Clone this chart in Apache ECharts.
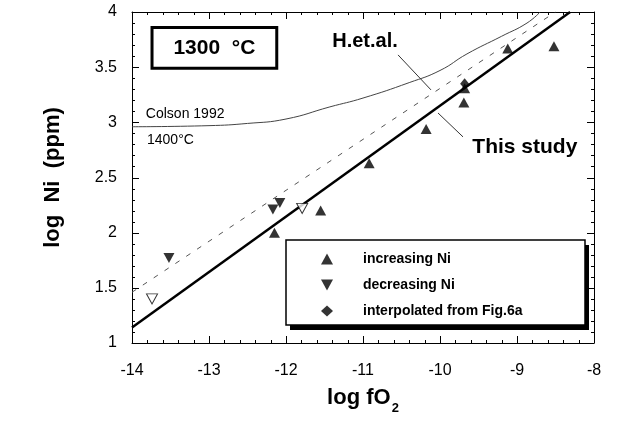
<!DOCTYPE html>
<html>
<head>
<meta charset="utf-8">
<script src="https://cdn.jsdelivr.net/npm/echarts@6/dist/echarts.min.js"></script>
<style>
  html, body { margin: 0; padding: 0; background: #fff; }
  #chart { width: 618px; height: 426px; }
</style>
</head>
<body>
<div id="chart"></div>
<script>
// measured points, [log fO2, log Ni]
const increasingNi = [[-12.15, 2.0], [-11.55, 2.2], [-10.92, 2.63], [-10.18, 2.94], [-9.69, 3.18], [-9.68, 3.31], [-9.12, 3.67], [-8.52, 3.69]];
const decreasingNi = [[-13.52, 1.77], [-12.17, 2.21], [-12.08, 2.27]];
const openDecreasing = [[-13.74, 1.40], [-11.79, 2.22]];
const interpolated = [[-9.68, 3.35]];

// fitted / literature lines
const thisStudy = [[-14, 1.14], [-8.31, 4.0]];
const hEtAl = [[-14, 1.46], [-8.5, 4.0]];
const colson1992 = [[-14, 2.96], [-13, 2.97], [-12.5, 2.99], [-12, 3.03], [-11.43, 3.14], [-11, 3.22], [-10.4, 3.36], [-10, 3.47], [-9.65, 3.62], [-9.2, 3.78], [-8.87, 3.9], [-8.7, 4.0]];

// frame ticks
const xMajorTicks = [-14, -13, -12, -11, -10, -9, -8];
const xMinorTicks = [-13.8, -13.6, -13.4, -13.2, -12.8, -12.6, -12.4, -12.2, -11.8, -11.6, -11.4, -11.2, -10.8, -10.6, -10.4, -10.2, -9.8, -9.6, -9.4, -9.2, -8.8, -8.6, -8.4, -8.2];
const yMajorTicks = [1, 1.5, 2, 2.5, 3, 3.5, 4];
const yMinorTicks = [1.1, 1.2, 1.3, 1.4, 1.6, 1.7, 1.8, 1.9, 2.1, 2.2, 2.3, 2.4, 2.6, 2.7, 2.8, 2.9, 3.1, 3.2, 3.3, 3.4, 3.6, 3.7, 3.8, 3.9];

const legendNames = ['increasing Ni', 'decreasing Ni', 'interpolated from Fig.6a'];

const FONT = '"Liberation Sans", Arial, Helvetica, sans-serif';
const downTri = 'path://M0,0 L10,0 L5,9 Z';

const W = 618, H = 426;
const grid = { left: 132, right: 24, top: 12, bottom: 83 };
const xRange = [-14, -8, 1];
const yRange = [1, 4, 0.5];
const MAJOR = 7, MINOR = 3;

// same linear mapping the grid uses, for the annotations
const px = (p) => [
  grid.left + (p[0] - xRange[0]) / (xRange[1] - xRange[0]) * (W - grid.left - grid.right),
  grid.top + (yRange[1] - p[1]) / (yRange[1] - yRange[0]) * (H - grid.top - grid.bottom),
];
const seg = (a, b) => {
  const p1 = px(a), p2 = px(b);
  return { type: 'line', z: 10, shape: { x1: p1[0], y1: p1[1], x2: p2[0], y2: p2[1] }, style: { stroke: '#333', lineWidth: 1 } };
};
const label = (p, text, size, weight) => {
  const q = px(p);
  return { type: 'text', z: 10, x: q[0], y: q[1], style: { text, font: `${weight || 'normal'} ${size}px ${FONT}`, fill: '#000', verticalAlign: 'middle' } };
};

function frameAxis(pos, range, showLabels) {
  return {
    type: 'value',
    position: pos,
    min: range[0],
    max: range[1],
    interval: range[2],
    axisLine: { show: true, lineStyle: { color: '#000', width: 1 } },
    axisTick: { show: false },
    minorTick: { show: false },
    splitLine: { show: false },
    axisLabel: { show: showLabels, color: '#000', fontFamily: FONT, fontSize: 16, margin: pos === 'bottom' ? 20 : 15 },
  };
}

const xMain = frameAxis('bottom', xRange, true);
xMain.name = '{a|log fO}{b|2}';
xMain.nameLocation = 'middle';
xMain.nameGap = 44;
xMain.nameTextStyle = {
  rich: {
    a: { fontFamily: FONT, fontSize: 22, fontWeight: 'bold', color: '#000', lineHeight: 24, verticalAlign: 'top' },
    b: { fontFamily: FONT, fontSize: 13, fontWeight: 'bold', color: '#000', lineHeight: 14, padding: [15, 0, 0, 1], verticalAlign: 'top' },
  },
};

const yMain = frameAxis('left', yRange, true);
yMain.name = 'log  Ni  (ppm)';
yMain.nameLocation = 'middle';
yMain.nameGap = 68;
yMain.nameRotate = 90;
yMain.nameTextStyle = { fontFamily: FONT, fontSize: 22, fontWeight: 'bold', color: '#000' };

// inward ticks on both opposite edges, placed through the grid's own scale
const crisp = (v) => Math.round(v) + 0.5;
const tickLine = (x1, y1, x2, y2) => ({ type: 'line', shape: { x1, y1, x2, y2 }, style: { stroke: '#000', lineWidth: 1 } });

function renderXTick(params, api) {
  const v = api.value(0), len = api.value(2);
  const b = api.coord([v, yRange[0]]), t = api.coord([v, yRange[1]]);
  const x = crisp(b[0]);
  return { type: 'group', children: [tickLine(x, b[1], x, b[1] - len), tickLine(x, t[1], x, t[1] + len)] };
}
function renderYTick(params, api) {
  const v = api.value(1), len = api.value(2);
  const l = api.coord([xRange[0], v]), r = api.coord([xRange[1], v]);
  const y = crisp(l[1]);
  return { type: 'group', children: [tickLine(l[0], y, l[0] + len, y), tickLine(r[0], y, r[0] - len, y)] };
}

const xTickData = xMajorTicks.map(v => [v, yRange[0], MAJOR]).concat(xMinorTicks.map(v => [v, yRange[0], MINOR]));
const yTickData = yMajorTicks.map(v => [xRange[0], v, MAJOR]).concat(yMinorTicks.map(v => [xRange[0], v, MINOR]));

const boxTL = px([-13.74, 3.86]);
const boxBR = px([-12.12, 3.49]);

const chart = echarts.init(document.getElementById('chart'));

chart.setOption({
  backgroundColor: '#fff',
  animation: false,
  grid: grid,
  xAxis: [xMain, frameAxis('top', xRange, false)],
  yAxis: [yMain, frameAxis('right', yRange, false)],
  legend: {
    data: legendNames,
    orient: 'vertical',
    left: 321,
    top: 252,
    padding: 0,
    itemWidth: 12,
    itemHeight: 11,
    itemGap: 12,
    selectedMode: false,
    textStyle: { fontFamily: FONT, fontSize: 14, fontWeight: 'bold', color: '#000', padding: [0, 0, 0, 25] },
  },
  graphic: [
    // legend frame with heavy drop shadow
    { type: 'rect', z: 0, silent: true, shape: { x: 290, y: 245, width: 299, height: 85 }, style: { fill: '#000' } },
    { type: 'rect', z: 1, silent: true, shape: { x: 286, y: 240, width: 299, height: 85 }, style: { fill: '#fff', stroke: '#000', lineWidth: 1.5 } },
    // 1300 °C box
    { type: 'rect', z: 10, shape: { x: boxTL[0], y: boxTL[1], width: boxBR[0] - boxTL[0], height: boxBR[1] - boxTL[1] }, style: { fill: '#fff', stroke: '#000', lineWidth: 3 } },
    { type: 'text', z: 11, x: (boxTL[0] + boxBR[0]) / 2, y: (boxTL[1] + boxBR[1]) / 2, style: { text: '1300  °C', font: `bold 21px ${FONT}`, fill: '#000', align: 'center', verticalAlign: 'middle' } },
    label([-11.40, 3.73], 'H.et.al.', 20, 'bold'),
    label([-9.58, 2.777], 'This study', 21, 'bold'),
    label([-13.82, 3.07], 'Colson 1992', 14),
    label([-13.805, 2.84], '1400°C', 14),
    seg([-10.545, 3.611], [-10.117, 3.294]),
    seg([-10.026, 3.085], [-9.701, 2.868]),
  ],
  series: [
    { name: 'x ticks', type: 'custom', data: xTickData, renderItem: renderXTick, silent: true, z: 1 },
    { name: 'y ticks', type: 'custom', data: yTickData, renderItem: renderYTick, silent: true, z: 1 },
    {
      name: 'Colson 1992', type: 'line', data: colson1992, smooth: true, symbol: 'none',
      lineStyle: { color: '#444', width: 1 }, z: 2,
    },
    {
      name: 'H.et.al.', type: 'line', data: hEtAl, symbol: 'none',
      lineStyle: { color: '#555', width: 1, type: [5, 8] }, z: 2,
    },
    {
      name: 'This study', type: 'line', data: thisStudy, symbol: 'none',
      lineStyle: { color: '#000', width: 2.5 }, z: 3,
    },
    {
      name: 'increasing Ni', type: 'scatter', data: increasingNi, symbol: 'triangle', symbolSize: [11, 10],
      itemStyle: { color: '#000' }, z: 5,
    },
    {
      name: 'decreasing Ni', type: 'scatter', data: decreasingNi, symbol: downTri, symbolSize: [11, 10],
      itemStyle: { color: '#000' }, z: 5,
    },
    {
      name: 'decreasing Ni (open)', type: 'scatter', data: openDecreasing, symbol: downTri, symbolSize: [11, 10],
      itemStyle: { color: '#fff', borderColor: '#000', borderWidth: 1 }, z: 5,
    },
    {
      name: 'interpolated from Fig.6a', type: 'scatter', data: interpolated, symbol: 'diamond', symbolSize: [9, 11],
      itemStyle: { color: '#000' }, z: 6,
    },
  ],
});
</script>
</body>
</html>
